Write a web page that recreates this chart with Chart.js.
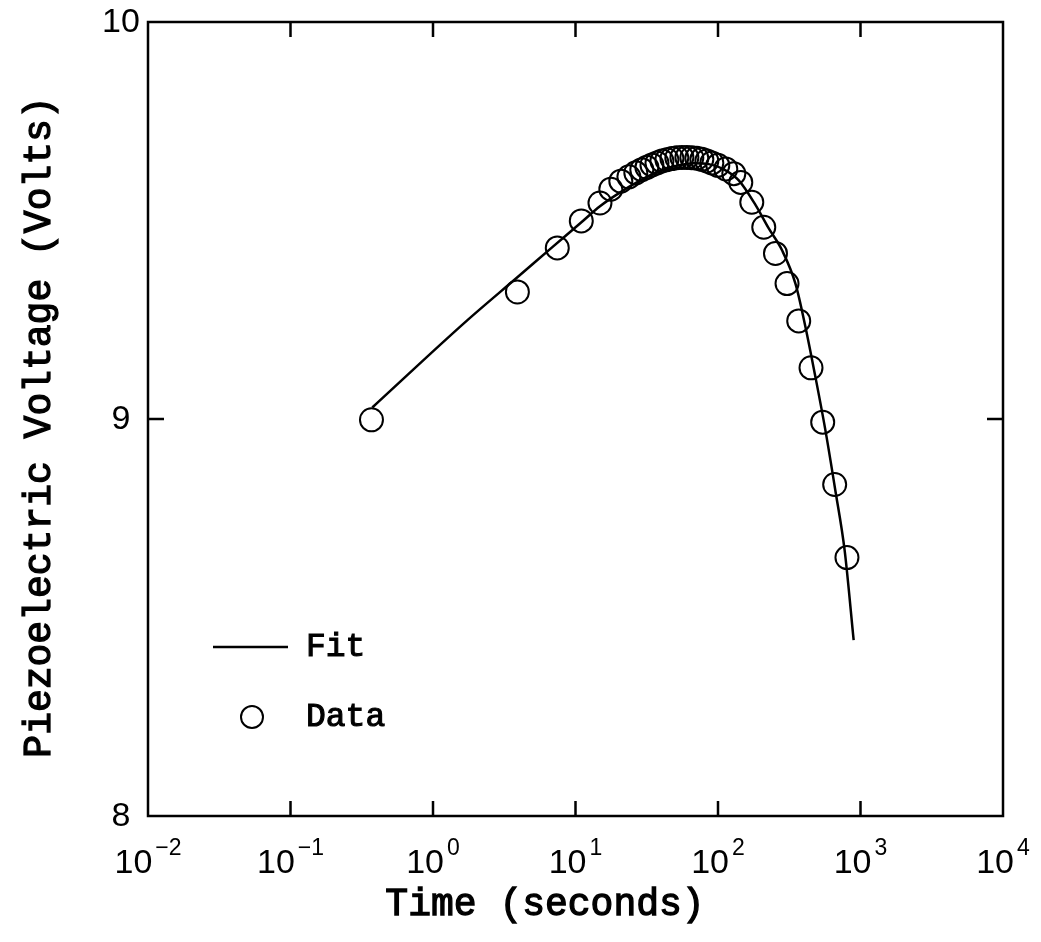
<!DOCTYPE html>
<html>
<head>
<meta charset="utf-8">
<title>Piezoelectric Voltage vs Time</title>
<script src="https://cdn.jsdelivr.net/npm/chart.js@4.4.1/dist/chart.umd.min.js"></script>
<style>
  html, body { margin: 0; padding: 0; background: #fff; }
  canvas { display: block; }
</style>
</head>
<body>
<canvas id="chart" width="1041" height="942"></canvas>
<script>
(function () {
  'use strict';

  // measured points (time in s, voltage in V)
  const dataTime = [0.370, 3.91, 7.45, 10.98, 14.85, 17.7, 20.8, 23.7, 26.5, 29.2,
    31.7, 34.4, 37.3, 40.4, 43.8, 47.5, 51.4, 55.8, 60.5, 65.5,
    71.0, 77.0, 83.5, 90.5, 99.7, 113.4, 129.1, 144.5, 172.6, 209.5,
    253.1, 305.1, 368.5, 449.5, 542.9, 658.8, 803.5];
  const dataVolts = [8.998, 9.320, 9.431, 9.499, 9.544, 9.579, 9.599, 9.610, 9.620, 9.628,
    9.634, 9.640, 9.645, 9.650, 9.653, 9.656, 9.658, 9.659, 9.659, 9.658,
    9.657, 9.654, 9.650, 9.645, 9.639, 9.630, 9.618, 9.596, 9.546, 9.483,
    9.417, 9.341, 9.247, 9.129, 8.992, 8.835, 8.651];

  // fitted curve
  const fitTime = [0.375, 1.745, 3.91, 6.88, 10.95, 14.85, 20.2, 27.9, 38.5, 53.1,
    67.7, 86.2, 109.9, 139.9, 184.1, 227.1, 281.5, 349.5, 410.8, 482.6,
    567, 666, 774, 895.4];
  const fitVolts = [9.029, 9.249, 9.357, 9.433, 9.495, 9.536, 9.569, 9.599, 9.624, 9.639,
    9.644, 9.642, 9.629, 9.601, 9.538, 9.480, 9.425, 9.341, 9.232, 9.106,
    8.972, 8.820, 8.669, 8.443];

  const xTickValues = [0.01, 0.1, 1, 10, 100, 1000, 10000];
  const xTickExps = ['\u22122', '\u22121', '0', '1', '2', '3', '4'];
  const yTickValues = [8, 9, 10];
  const yTickLabels = ['8', '9', '10'];

  const xTitle = 'Time (seconds)';
  const yTitle = 'Piezoelectric Voltage (Volts)';
  const legendFit = 'Fit';
  const legendData = 'Data';

  const MONO = '"Liberation Mono", "DejaVu Sans Mono", monospace';
  const SANS = '"Liberation Sans", Arial, sans-serif';

  // typewriter look: regular face with a thin outline to thicken it a bit
  function typeText(ctx, s, x, y) {
    ctx.fillText(s, x, y);
    ctx.strokeText(s, x, y);
  }

  const frame = {
    id: 'frame',
    afterDraw(chart) {
      const ctx = chart.ctx;
      const a = chart.chartArea;
      const xs = chart.scales.x;
      const ys = chart.scales.y;
      ctx.save();
      ctx.strokeStyle = '#000';
      ctx.fillStyle = '#000';

      // box
      ctx.lineWidth = 2.5;
      ctx.strokeRect(a.left, a.top, a.right - a.left, a.bottom - a.top);

      // inward ticks, all four sides
      ctx.beginPath();
      xTickValues.slice(1, -1).forEach(v => {
        const px = xs.getPixelForValue(v);
        ctx.moveTo(px, a.bottom); ctx.lineTo(px, a.bottom - 15);
        ctx.moveTo(px, a.top); ctx.lineTo(px, a.top + 15);
      });
      yTickValues.slice(1, -1).forEach(v => {
        const py = ys.getPixelForValue(v);
        ctx.moveTo(a.left, py); ctx.lineTo(a.left + 16, py);
        ctx.moveTo(a.right, py); ctx.lineTo(a.right - 16, py);
      });
      ctx.stroke();

      // x tick labels with superscripts
      ctx.textBaseline = 'alphabetic';
      ctx.textAlign = 'left';
      xTickValues.forEach((v, i) => {
        const px = xs.getPixelForValue(v);
        ctx.font = '34px ' + SANS;
        const wb = ctx.measureText('10').width;
        ctx.font = '23px ' + SANS;
        const we = ctx.measureText(xTickExps[i]).width;
        const x0 = px - (wb + we + 3) / 2;
        ctx.font = '34px ' + SANS;
        ctx.fillText('10', x0, a.bottom + 57);
        ctx.font = '23px ' + SANS;
        ctx.fillText(xTickExps[i], x0 + wb + 3, a.bottom + 39);
      });

      // y tick labels
      ctx.font = '34px ' + SANS;
      ctx.textAlign = 'center';
      ctx.textBaseline = 'middle';
      yTickValues.forEach((v, i) => {
        ctx.fillText(yTickLabels[i], 121, ys.getPixelForValue(v) + 1);
      });

      // axis titles
      ctx.lineWidth = 1.3;
      ctx.font = '38px ' + MONO;
      ctx.textAlign = 'center';
      ctx.textBaseline = 'middle';
      typeText(ctx, xTitle, 545, 905);
      ctx.save();
      ctx.translate(40, 427);
      ctx.rotate(-Math.PI / 2);
      typeText(ctx, yTitle, 0, 0);
      ctx.restore();

      // legend
      ctx.lineWidth = 2.5;
      ctx.beginPath();
      ctx.moveTo(213, 647); ctx.lineTo(288, 647);
      ctx.stroke();
      ctx.lineWidth = 2;
      ctx.beginPath();
      ctx.arc(252, 717, 11, 0, Math.PI * 2);
      ctx.stroke();
      ctx.lineWidth = 1.1;
      ctx.font = '33px ' + MONO;
      ctx.textAlign = 'left';
      typeText(ctx, legendFit, 306, 647);
      typeText(ctx, legendData, 306, 717);

      ctx.restore();
    }
  };

  new Chart(document.getElementById('chart').getContext('2d'), {
    data: {
      datasets: [
        {
          type: 'line',
          label: legendFit,
          data: fitTime.map((t, i) => ({ x: t, y: fitVolts[i] })),
          borderColor: '#000',
          borderWidth: 2.5,
          pointRadius: 0,
          cubicInterpolationMode: 'monotone',
          fill: false
        },
        {
          type: 'scatter',
          label: legendData,
          data: dataTime.map((t, i) => ({ x: t, y: dataVolts[i] })),
          borderColor: '#000',
          backgroundColor: 'rgba(0,0,0,0)',
          borderWidth: 2,
          pointRadius: 11.5,
          pointStyle: 'circle'
        }
      ]
    },
    options: {
      responsive: false,
      animation: false,
      devicePixelRatio: 1,
      layout: { padding: { left: 148, top: 22, right: 38, bottom: 126 } },
      plugins: {
        legend: { display: false },
        tooltip: { enabled: false }
      },
      scales: {
        x: { type: 'logarithmic', display: false, min: 0.01, max: 10000 },
        y: { type: 'linear', display: false, min: 8, max: 10 }
      }
    },
    plugins: [frame]
  });
})();
</script>
</body>
</html>
